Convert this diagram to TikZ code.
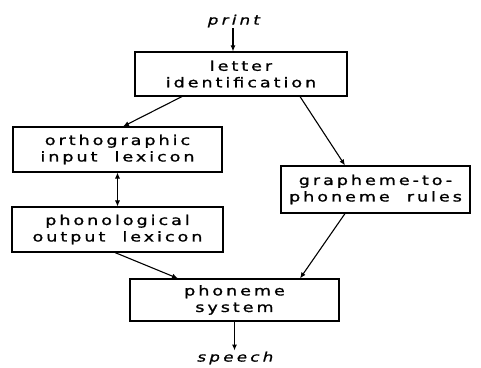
\documentclass[tikz,border=0pt]{standalone}
\usepackage{fontspec}
\newfontfamily\boxfont[FakeStretch=1.3,LetterSpace=22,FakeBold=1.2]{DejaVu Sans}
\newfontfamily\ioFont[FakeStretch=1.3,LetterSpace=24,FakeSlant=0.25,FakeBold=1]{DejaVu Sans}
\usetikzlibrary{arrows.meta}

\tikzset{
  module/.style={draw, line width=1.1pt, inner sep=0pt, align=center,
    font=\boxfont\fontsize{13.5}{16.5}\selectfont},
  flow/.style={line width=1.1pt, -{Latex[length=6pt,width=5pt]}},
  io/.style={font=\ioFont\fontsize{13}{15}\selectfont, inner sep=1pt}
}

\begin{document}
\begin{tikzpicture}[x=1pt,y=-1pt]
  \useasboundingbox (0,0) rectangle (481,367);

  % the boxes
  \node[module, minimum width=212pt, minimum height=44pt] (letterid) at (241,74) {letter\\identification};
  \node[module, minimum width=209pt, minimum height=45pt] (ortho) at (117.5,149.5) {orthographic\\input\ \ lexicon};
  \node[module, minimum width=211pt, minimum height=45pt] (phono) at (117.5,229.5) {phonological\\output\ \ lexicon};
  \node[module, minimum width=189pt, minimum height=47pt] (graph) at (375.5,189.5) {grapheme-to-\\phoneme\ \ rules};
  \node[module, minimum width=209pt, minimum height=42pt] (phoneme) at (234.5,300) {phoneme\\system};

  % input and output
  \node[io] (print) at (233,21) {print};
  \node[io] (speech) at (234.5,358) {speech};

  % the routes
  \draw[flow] (print.south) -- ([xshift=-8pt]letterid.north);
  \draw[flow] ([xshift=-59pt]letterid.south) -- ([xshift=5.5pt]ortho.north);
  \draw[flow] ([xshift=59pt]letterid.south) -- ([xshift=-30.5pt]graph.north);
  \draw[flow, {Latex[length=6pt,width=5pt]}-{Latex[length=6pt,width=5pt]}, line width=0.8pt] (ortho.south) -- (phono.north);
  \draw[flow] ([xshift=-2.5pt]phono.south) -- ([xshift=-56.5pt]phoneme.north);
  \draw[flow] ([xshift=-30.5pt]graph.south) -- ([xshift=65.5pt]phoneme.north);
  \draw[flow] (phoneme.south) -- (speech.north);

\end{tikzpicture}
\end{document}
